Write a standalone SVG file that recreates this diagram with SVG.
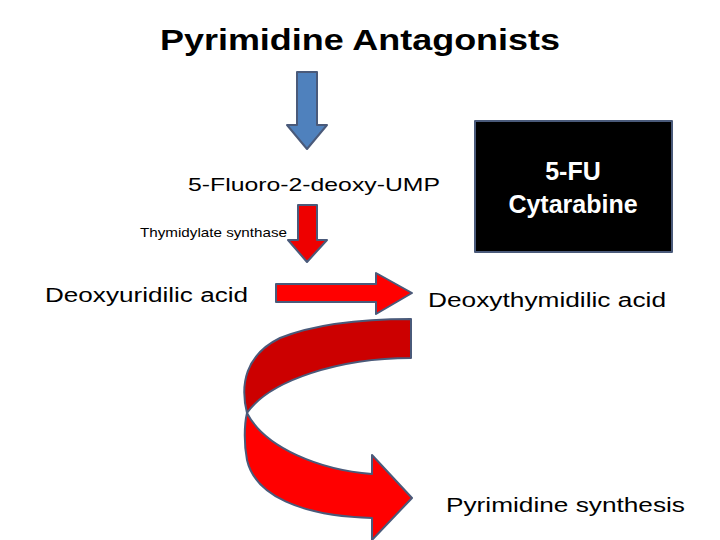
<svg xmlns="http://www.w3.org/2000/svg" width="720" height="540" viewBox="0 0 720 540">
<style>
text{font-family:"Liberation Sans",Arial,sans-serif;fill:#000;font-weight:bold}
.sh{stroke:#4a5a7a;stroke-width:2;stroke-linejoin:round}
</style>
<rect width="720" height="540" fill="#fff"/>
<text x="160" y="50" font-size="30" textLength="400" lengthAdjust="spacingAndGlyphs">Pyrimidine Antagonists</text>
<g id="box"><rect x="475" y="121" width="197" height="131" fill="#000" class="sh"/>
<text x="573" y="180" font-size="25" text-anchor="middle" style="fill:#fff">5-FU</text>
<text x="573" y="213" font-size="25" text-anchor="middle" style="fill:#fff">Cytarabine</text></g>
<g id="labels">
<text x="188" y="191" font-size="19" textLength="252" lengthAdjust="spacingAndGlyphs" style="font-weight:normal">5-Fluoro-2-deoxy-UMP</text>
<text x="140" y="237" font-size="13" textLength="147" lengthAdjust="spacingAndGlyphs" style="font-weight:normal">Thymidylate synthase</text>
<text x="45" y="302" font-size="20" textLength="203" lengthAdjust="spacingAndGlyphs" style="font-weight:normal">Deoxyuridilic acid</text>
<text x="428" y="307" font-size="20" textLength="238" lengthAdjust="spacingAndGlyphs" style="font-weight:normal">Deoxythymidilic acid</text>
<text x="446" y="512" font-size="20" textLength="239" lengthAdjust="spacingAndGlyphs" style="font-weight:normal">Pyrimidine synthesis</text></g>
<g id="connectors">
<path class="sh" fill="#4f81bd" d="M297 72H317V125H327L307 149L287 125H297Z"/>
<path class="sh" fill="#e00" d="M298 205H317V240H327L307 262L288 240H298Z"/>
<path class="sh" fill="#f00" d="M276 284H376V273L412 293L376 314V302H276Z"/>
<path class="sh" fill="#c00" d="M411 319V358C340 358 270 380 247 413C240 385 245 355 280 338C315 324 360 319 411 319Z"/>
<path class="sh" fill="#f00" d="M247 413C265 448 320 470 372 474V455L412 498L372 540V518C300 516 255 495 247 460C244 445 244 425 247 413Z"/>
</g>
</svg>
